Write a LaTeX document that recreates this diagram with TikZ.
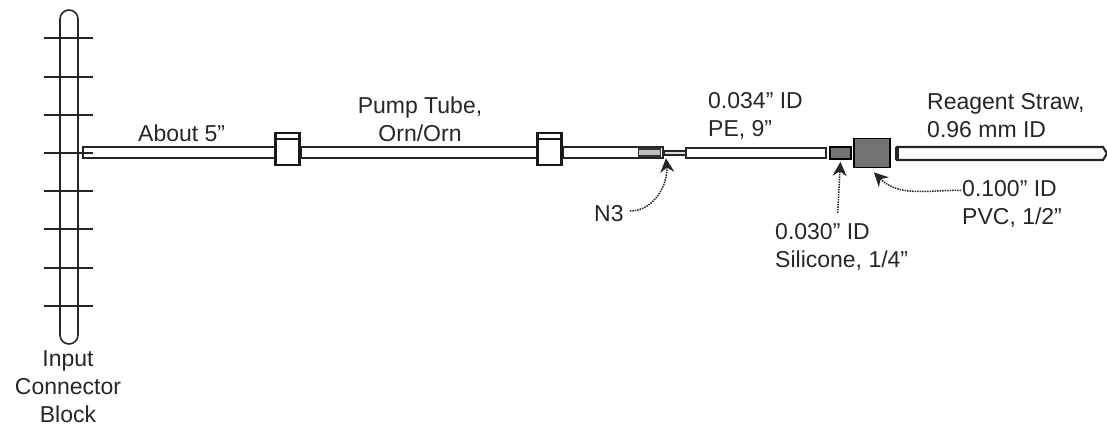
\documentclass[tikz,border=0pt]{standalone}
\usepackage{fontspec}
\setmainfont{Liberation Sans}
\usetikzlibrary{arrows.meta,positioning,shapes.misc}

\begin{document}
\begin{tikzpicture}[
        x=1pt,y=-1pt,
        mytube/.style={
            rectangle,
            draw=black!85,
            fill=white,
            line width=2.1pt,
            inner sep=0pt,
            minimum height=11pt},
        myhub/.style={
            rectangle,
            draw=black!90,
            fill=white,
            line width=2.2pt,
            inner sep=0pt,
            minimum width=24pt,
            minimum height=32pt},
        myfitting/.style={
            rectangle,
            draw=black,
            fill=black!55,
            line width=1.8pt,
            inner sep=0pt},
        mylabel/.style={
            align=left,
            inner sep=0pt,
            text=black!85,
            font=\fontsize{23}{28}\selectfont},
        myarrow/.style={
            -{Stealth[length=14pt,width=14pt]},
            densely dotted,
            line width=1.5pt,
            draw=black!85}
        ]
        \useasboundingbox (0,0) rectangle (1107,427);

        % connector block
        \node[rounded rectangle,rotate=90,draw=black!85,line width=1.6pt,inner sep=0pt,
            minimum width=334pt,minimum height=18pt] (block) at (69,177) {};

        % tubing
        \node[mytube,minimum width=193pt,anchor=west] (t1) at (82,152.5) {};
        \node[mytube,minimum width=238pt,anchor=west] (t2) at (300,152.5) {};
        \node[mytube,minimum width=100pt,anchor=west] (t3) at (562,152.5) {};
        \node[myhub] (h1) at (287.5,149) {};
        \node[myhub] (h2) at (549.5,149) {};
        \coordinate (h1a) at (275.5,139);
        \coordinate (h1b) at (299.5,139);
        \coordinate (h2a) at (537.5,139);
        \coordinate (h2b) at (561.5,139);
        \draw[line width=2.2pt,black!90] (h1a) -- (h1b);
        \draw[line width=2.2pt,black!90] (h2a) -- (h2b);
        \node[rectangle,draw=black!80,fill=black!25,line width=1.2pt,inner sep=0pt,
            minimum width=22pt,minimum height=7pt,anchor=east] (n3) at (661,152.5) {};
        \node[mytube,line width=1.6pt,fill=black!15,minimum width=22pt,minimum height=4pt,anchor=west] (t4) at (663,153) {};
        \node[mytube,minimum width=140pt,minimum height=9.5pt,anchor=west] (t5) at (685,153) {};
        \node[myfitting,minimum width=21pt,minimum height=12pt,anchor=west] (sil) at (829,153) {};
        \node[myfitting,minimum width=36pt,minimum height=29pt,anchor=west] (pvc) at (853,153) {};

        % pins of the block, over the first tube
        \foreach \y in {38,77,115,153,191,229,268,306}{
            \coordinate (l\y) at (44,\y);
            \coordinate (r\y) at (93,\y);
            \draw[line width=1.6pt,black!85] (l\y) -- (r\y);
        }

        % straw with its cut end
        \coordinate (s1) at (897,147);
        \coordinate (s2) at (1103,147);
        \coordinate (s3) at (1107,153.5);
        \coordinate (s4) at (1103,160);
        \coordinate (s5) at (897,160);
        \draw[line width=2.1pt,black!85] (s3) -- (s2) -- (s1) -- (s5) -- (s4) -- (s3);
        \draw[line width=3.2pt,black!85] (s1) -- (s5);

        % labels
        \node[mylabel,anchor=west] (about) at (138,133) {About 5"};
        \node[mylabel,align=center] (pump) at (420,119) {Pump Tube,\\Orn/Orn};
        \node[mylabel,anchor=west] (pe) at (708,115.5) {0.034" ID\\PE, 9"};
        \node[mylabel,anchor=west] (straw) at (927,115.5) {Reagent Straw,\\0.96 mm ID};
        \node[mylabel,anchor=west] (lbl100) at (962,204) {0.100" ID\\PVC, 1/2"};
        \node[mylabel,anchor=west] (lbl030) at (775,246.5) {0.030" ID\\Silicone, 1/4"};
        \node[mylabel,anchor=west] (lbln3) at (594,214) {N3};
        \node[mylabel,align=center] (input) at (68,387) {Input\\Connector\\Block};

        \draw[myarrow] ([xshift=6pt,yshift=3pt]lbln3.east) to[out=0,in=-85] ([xshift=3pt,yshift=-2.5pt]t4.south west);
        \draw[myarrow] ([xshift=-4pt,yshift=10pt]lbl030.north) -- ([yshift=-2pt]sil.south);
        \draw[myarrow] ([xshift=-1pt,yshift=-10pt]lbl100.north west) to[out=180,in=-45] ([xshift=2pt,yshift=-4pt]pvc.south);
\end{tikzpicture}
\end{document}
